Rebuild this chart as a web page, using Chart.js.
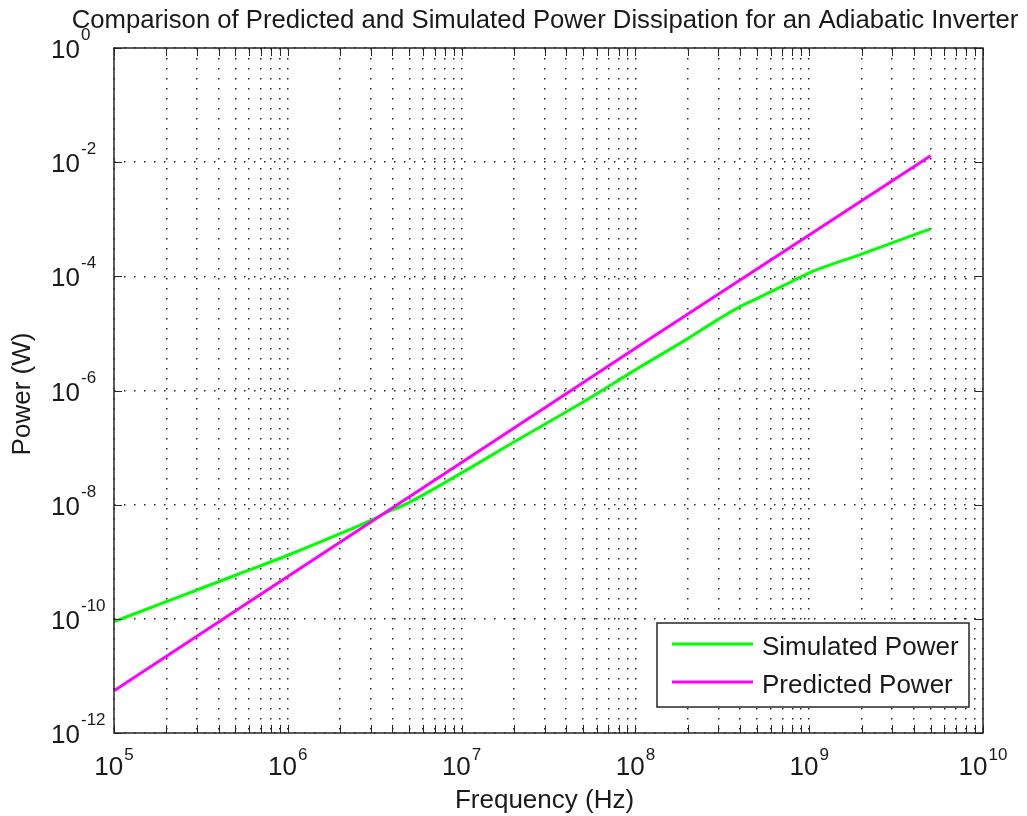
<!DOCTYPE html>
<html><head><meta charset="utf-8">
<style>html,body{margin:0;padding:0;background:#fff;}#wrap{width:1027px;height:816px;}</style>
<script src="https://cdn.jsdelivr.net/npm/chart.js@4.4.1/dist/chart.umd.min.js"></script>
</head><body><div id="wrap"><canvas id="c" width="1027" height="816"></canvas></div>
<script>
const chartTitle = "Comparison of Predicted and Simulated Power Dissipation for an Adiabatic Inverter";
const xAxisTitle = "Frequency (Hz)";
const yAxisTitle = "Power (W)";
const seriesNames = ["Simulated Power", "Predicted Power"];
const seriesColors = ["#00ff00", "#ff00ff"];

const simFreq  = [1e5, 2e5, 3e5, 5e5, 1e6, 2e6, 3e6, 3.52e6, 5e6, 1e7, 2e7, 5e7, 1e8, 2e8, 3e8, 4e8, 5e8, 6e8, 8e8, 1e9, 2e9, 3e9, 5e9];
const simPower = [8.9e-11, 2.0e-10, 3.2e-10, 5.8e-10, 1.3e-9, 3.1e-9, 5.3e-9, 6.8e-9, 1.1e-8, 3.6e-8, 1.25e-7, 6.3e-7, 2.3e-6, 8.1e-6, 1.76e-5, 2.95e-5, 4.08e-5, 5.35e-5, 8.2e-5, 1.15e-4, 2.45e-4, 3.85e-4, 6.8e-4];

const predFreq  = [1e5, 1e6, 1e7, 1e8, 1e9, 5e9];
const predPower = [5.5e-12, 5.5e-10, 5.5e-8, 5.5e-6, 5.3e-4, 1.3e-2];

const xTickExponents = [5, 6, 7, 8, 9, 10];
const yTickExponents = [0, -2, -4, -6, -8, -10, -12];
const minorMultipliers = [1, 2, 3, 4, 5, 6, 7, 8, 9];

const xGridValues = [];
xTickExponents.forEach((e, i) => {
  if (i < xTickExponents.length - 1) minorMultipliers.forEach(m => xGridValues.push(m * Math.pow(10, e)));
  else xGridValues.push(Math.pow(10, e));
});
const yGridValues = yTickExponents.map(e => Math.pow(10, e));

const FONT = "'Liberation Sans', Arial, Helvetica, sans-serif";
const TXT = '#1a1a1a';

const decor = {
  id: 'decor',
  afterDraw(chart) {
    const {ctx, chartArea: a, scales: {x, y}} = chart;
    ctx.save();
    ctx.setLineDash([]);
    ctx.strokeStyle = '#262626';
    ctx.lineWidth = 1.5;
    ctx.strokeRect(a.left, a.top, a.right - a.left, a.bottom - a.top);
    ctx.lineWidth = 1;
    ctx.beginPath();
    const tl = 8;
    xGridValues.forEach(v => {
      const px = Math.round(x.getPixelForValue(v)) + 0.5;
      ctx.moveTo(px, a.bottom); ctx.lineTo(px, a.bottom - tl);
      ctx.moveTo(px, a.top); ctx.lineTo(px, a.top + tl);
    });
    yGridValues.forEach(v => {
      const py = Math.round(y.getPixelForValue(v)) + 0.5;
      ctx.moveTo(a.left, py); ctx.lineTo(a.left + tl, py);
      ctx.moveTo(a.right, py); ctx.lineTo(a.right - tl, py);
    });
    ctx.stroke();

    ctx.fillStyle = TXT;
    const bigF = '26px ' + FONT, supF = '17px ' + FONT;
    ctx.textBaseline = 'alphabetic';
    xTickExponents.forEach(e => {
      const px = x.getPixelForValue(Math.pow(10, e));
      ctx.font = bigF; const w1 = ctx.measureText('10').width;
      ctx.font = supF; const w2 = ctx.measureText(String(e)).width;
      const start = px - (w1 + 1 + w2) / 2;
      ctx.textAlign = 'left';
      ctx.font = bigF; ctx.fillText('10', start, a.bottom + 42);
      ctx.font = supF; ctx.fillText(String(e), start + w1 + 1, a.bottom + 27);
    });
    yTickExponents.forEach(e => {
      const py = y.getPixelForValue(Math.pow(10, e));
      ctx.font = bigF; ctx.textAlign = 'right'; ctx.fillText('10', 80, py + 10);
      ctx.font = supF; ctx.textAlign = 'left'; ctx.fillText(String(e), 81, py - 8);
    });
    ctx.font = '26px ' + FONT;
    ctx.textAlign = 'center';
    ctx.fillText(xAxisTitle, (a.left + a.right) / 2 - 4, 808);
    ctx.save();
    ctx.translate(30, 394);
    ctx.rotate(-Math.PI / 2);
    ctx.fillText(yAxisTitle, 0, 0);
    ctx.restore();
    ctx.font = '25.7px ' + FONT;
    ctx.fillText(chartTitle, 545, 28);

    const bx = 657, by = 623, bw = 312, bh = 84;
    ctx.fillStyle = '#fff';
    ctx.fillRect(bx, by, bw, bh);
    ctx.strokeStyle = '#262626'; ctx.lineWidth = 1.5;
    ctx.strokeRect(bx, by, bw, bh);
    const rows = [644, 682];
    seriesNames.forEach((n, i) => {
      ctx.strokeStyle = seriesColors[i]; ctx.lineWidth = 3;
      ctx.beginPath(); ctx.moveTo(672, rows[i]); ctx.lineTo(753, rows[i]); ctx.stroke();
      ctx.fillStyle = TXT; ctx.font = '26px ' + FONT; ctx.textAlign = 'left';
      ctx.fillText(n, 762, rows[i] + 11);
    });
    ctx.restore();
  }
};

const gridOpts = {color: 'rgba(0,0,0,0.85)', lineWidth: 1.5, drawTicks: false};
const borderOpts = {display: false, dash: [1.5, 8.5]};

new Chart(document.getElementById('c').getContext('2d'), {
  type: 'line',
  data: {
    datasets: [
      {label: seriesNames[0], data: simFreq.map((f, i) => ({x: f, y: simPower[i]})),
       borderColor: seriesColors[0], borderWidth: 3, pointRadius: 0, fill: false,
       cubicInterpolationMode: 'monotone', order: 1},
      {label: seriesNames[1], data: predFreq.map((f, i) => ({x: f, y: predPower[i]})),
       borderColor: seriesColors[1], borderWidth: 3, pointRadius: 0, fill: false,
       tension: 0, order: 0}
    ]
  },
  options: {
    responsive: false, animation: false, devicePixelRatio: 1,
    layout: {padding: {left: 114, right: 44, top: 48, bottom: 83}},
    plugins: {legend: {display: false}, title: {display: false}, tooltip: {enabled: false}},
    scales: {
      x: {type: 'logarithmic', min: 1e5, max: 1e10,
          afterBuildTicks: s => { s.ticks = xGridValues.map(v => ({value: v})); },
          ticks: {display: false}, grid: gridOpts, border: borderOpts},
      y: {type: 'logarithmic', min: 1e-12, max: 1,
          afterBuildTicks: s => { s.ticks = yGridValues.map(v => ({value: v})); },
          ticks: {display: false}, grid: gridOpts, border: borderOpts}
    }
  },
  plugins: [decor]
});
</script></body></html>
